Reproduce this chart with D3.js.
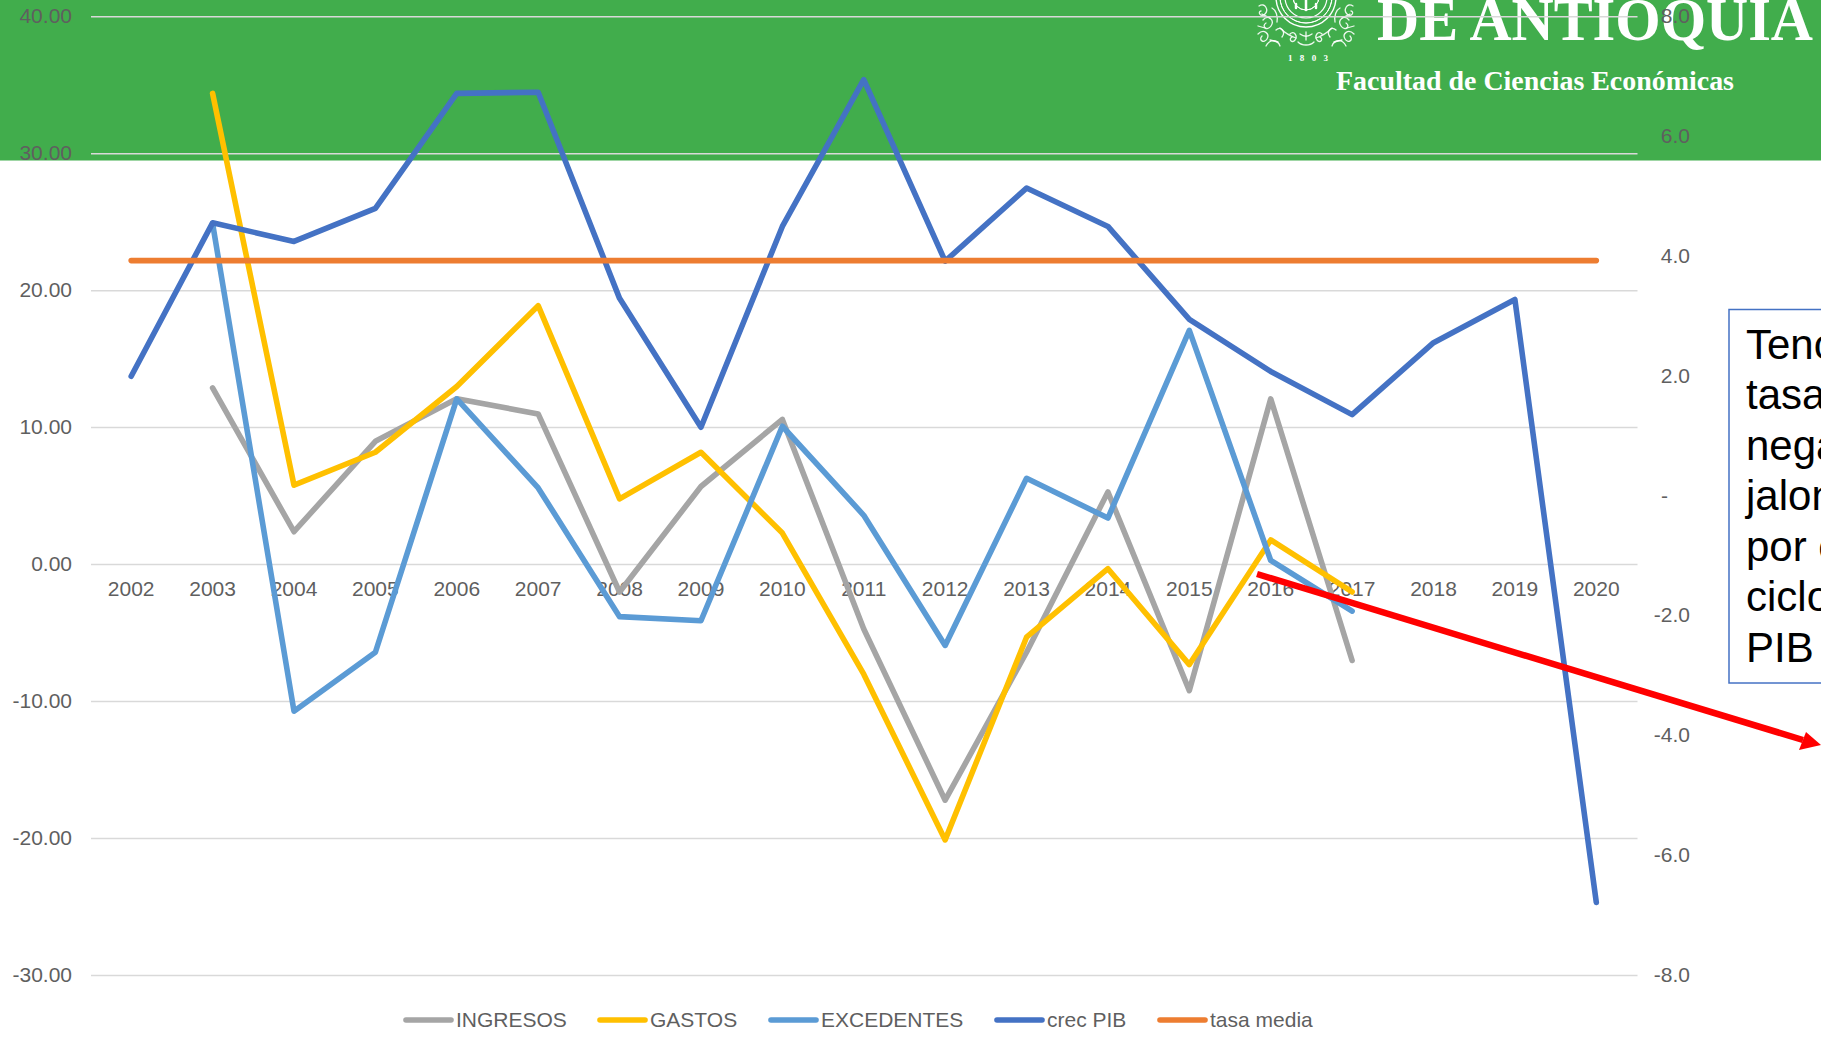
<!DOCTYPE html>
<html><head><meta charset="utf-8">
<script src="https://cdn.jsdelivr.net/npm/d3@7"></script>
<style>html,body{margin:0;padding:0;background:#fff;overflow:hidden}svg{display:block}text{font-family:"Liberation Sans",Arial,sans-serif}</style>
</head><body><svg id="c" width="1821" height="1041"></svg>
<script>
const years=["2002","2003","2004","2005","2006","2007","2008","2009","2010","2011","2012","2013","2014","2015","2016","2017","2018","2019","2020"];
const ingresos=[null,12.9,2.4,9.0,12.1,11.0,-2.0,5.7,10.6,-4.7,-17.2,-6.4,5.3,-9.2,12.1,-7.0,null,null,null];
const gastos=[null,34.4,5.8,8.2,13.0,18.9,4.8,8.2,2.3,-8.0,-20.1,-5.3,-0.3,-7.3,1.8,-2.0,null,null,null];
const excedentes=[null,24.9,-10.7,-6.4,12.1,5.6,-3.8,-4.1,10.1,3.6,-5.9,6.3,3.4,17.1,0.3,-3.4,null,null,null];
const crecPIB=[2.0,4.56,4.25,4.8,6.72,6.74,3.3,1.15,4.5,6.95,3.92,5.14,4.5,2.95,2.08,1.36,2.56,3.28,-6.78];
const tasaMedia=[3.93,3.93,3.93,3.93,3.93,3.93,3.93,3.93,3.93,3.93,3.93,3.93,3.93,3.93,3.93,3.93,3.93,3.93,3.93];
const leftTicks=[40,30,20,10,0,-10,-20,-30];
const rightTicks=[8,6,4,2,0,-2,-4,-6,-8];
const legendNames=["INGRESOS","GASTOS","EXCEDENTES","crec PIB","tasa media"];
const boxLines=["Tenc","tasa","nega","jalon","por e","ciclo","PIB"];

const svg=d3.select("#c");
const x=d3.scaleBand().domain(years).range([91,1637.5]);
const yL=d3.scaleLinear().domain([-30,40]).range([975.5,16.7]);
const yR=d3.scaleLinear().domain([-8,8]).range([975.5,16.7]);
const cx=d=>x(d)+x.bandwidth()/2;
const hy=s=>s.replace("\u2212","-");

// banner
svg.append("rect").attr("x",0).attr("y",0).attr("width",1821).attr("height",160.5).attr("fill","#41AD4C");
const logo=svg.append("g").attr("fill","#fff");
logo.append("text").attr("x",1377).attr("y",40).attr("font-size",62).attr("font-weight",700)
  .style("font-family","'Liberation Serif',serif").attr("textLength",436).attr("lengthAdjust","spacingAndGlyphs").text("DE ANTIOQUIA");
logo.append("text").attr("x",1336).attr("y",90).attr("font-size",27).attr("font-weight",700)
  .style("font-family","'Liberation Serif',serif").attr("textLength",398).attr("lengthAdjust","spacingAndGlyphs").text("Facultad de Ciencias Económicas");
logo.append("text").attr("x",1288).attr("y",61).attr("font-size",9).attr("font-weight",700)
  .style("font-family","'Liberation Serif',serif").attr("textLength",40).text("1 8 0 3");

// seal (decorative emblem)
const seal=svg.append("g").attr("fill","none").attr("stroke","#fff").attr("stroke-linecap","round");
[[30,1.4,null],[26,1,null],[21,1.2,null],[13,1,null]].forEach(([r,w,dash])=>{
  seal.append("path").attr("d",d3.arc().innerRadius(r).outerRadius(r).startAngle(Math.PI/2).endAngle(Math.PI*1.5)())
    .attr("transform","translate(1306,-3)").attr("stroke-width",w).attr("stroke-dasharray",dash);
});
seal.append("path").attr("d","M1306,0V10M1296,4v4M1316,4v4").attr("stroke-width",2.5);
const curls=[
 "M1259,6c6,-4 10,4 6,8s-8,-2 -4,-3", "M1263,20c5,-6 12,0 8,6s-10,0 -5,-3", "M1258,34c6,-6 12,0 9,5s-9,1 -5,-3",
 "M1266,46c4,-8 12,-6 14,0", "M1272,8c4,2 6,8 5,14", "M1276,30c5,-5 10,2 6,7", "M1262,14l8,4M1258,26l7,2M1270,40l8,2",
 "M1353,6c-6,-4 -10,4 -6,8s8,-2 4,-3", "M1349,20c-5,-6 -12,0 -8,6s10,0 5,-3", "M1354,34c-6,-6 -12,0 -9,5s9,1 5,-3",
 "M1346,46c-4,-8 -12,-6 -14,0", "M1340,8c-4,2 -6,8 -5,14", "M1336,30c-5,-5 -10,2 -6,7", "M1350,14l-8,4M1354,26l-7,2M1342,40l-8,2",
 "M1280,28c6,6 10,8 16,10", "M1332,28c-6,6 -10,8 -16,10", "M1290,34c4,-4 8,2 5,6s-7,-1 -3,-3", "M1322,34c-4,-4 -8,2 -5,6s7,-1 3,-3",
 "M1298,42c4,4 12,4 16,0", "M1300,34c4,3 8,3 12,0", "M1306,32v8"
];
seal.selectAll("path.c").data(curls).join("path").attr("class","c").attr("d",d=>d).attr("stroke-width",1.3).attr("opacity",.9);

// grid
svg.append("g").selectAll("line").data(leftTicks).join("line")
  .attr("x1",91).attr("x2",1637.5).attr("y1",d=>yL(d)).attr("y2",d=>yL(d))
  .attr("stroke","#D9D9D9").attr("stroke-width",1.5);

// axis labels
const fs=21, tc="#5F5F5F";
svg.append("g").selectAll("text").data(leftTicks).join("text")
  .attr("x",72).attr("y",d=>yL(d)+6.5).attr("text-anchor","end").attr("font-size",fs).attr("fill",tc)
  .text(d=>hy(d3.format(".2f")(d)));
svg.append("g").selectAll("text").data(rightTicks).join("text")
  .attr("x",d=>d===0?1661:1690).attr("y",d=>yR(d)+6.5).attr("text-anchor",d=>d===0?"start":"end").attr("font-size",fs).attr("fill",tc)
  .text(d=>d===0?"-":hy(d3.format(".1f")(d)));
svg.append("g").selectAll("text").data(years).join("text")
  .attr("x",d=>cx(d)-0.5).attr("y",596).attr("text-anchor","middle").attr("font-size",fs).attr("fill",tc).text(d=>d);

// series
const colors=["#A5A5A5","#FFC000","#5B9BD5","#4472C4","#ED7D31"];
const seriesDefs=[[ingresos,yL],[gastos,yL],[excedentes,yL],[crecPIB,yR],[tasaMedia,yR]];
seriesDefs.forEach(([vals,sc],i)=>{
  const line=d3.line().defined(d=>d!==null).x((d,j)=>cx(years[j])-0.5).y(d=>sc(d));
  svg.append("path").attr("d",line(vals)).attr("fill","none").attr("stroke",colors[i])
    .attr("stroke-width",5.6).attr("stroke-linecap","round").attr("stroke-linejoin","round");
});

// legend
const swX=[404,598,769,995,1158];
const lg=svg.append("g");
legendNames.forEach((n,i)=>{
  lg.append("line").attr("x1",swX[i]+2).attr("x2",swX[i]+47).attr("y1",1020).attr("y2",1020)
    .attr("stroke",colors[i]).attr("stroke-width",5.6).attr("stroke-linecap","round");
  lg.append("text").attr("x",swX[i]+52).attr("y",1026.5).attr("font-size",fs).attr("fill",tc).text(n);
});

// annotation box
svg.append("rect").attr("x",1729).attr("y",309.5).attr("width",120).attr("height",373.5)
  .attr("fill","#fff").attr("stroke","#4472C4").attr("stroke-width",1.5);
svg.append("g").selectAll("text").data(boxLines).join("text")
  .attr("x",1746).attr("y",(d,i)=>358.5+i*50.5).attr("font-size",42).attr("fill","#000").text(d=>d);

// arrow
svg.append("line").attr("x1",1257).attr("y1",574).attr("x2",1803).attr("y2",740)
  .attr("stroke","#FF0000").attr("stroke-width",6.5);
svg.append("path").attr("d","M1821,745 L1799,750 L1806,732 Z").attr("fill","#FF0000");
</script></body></html>
